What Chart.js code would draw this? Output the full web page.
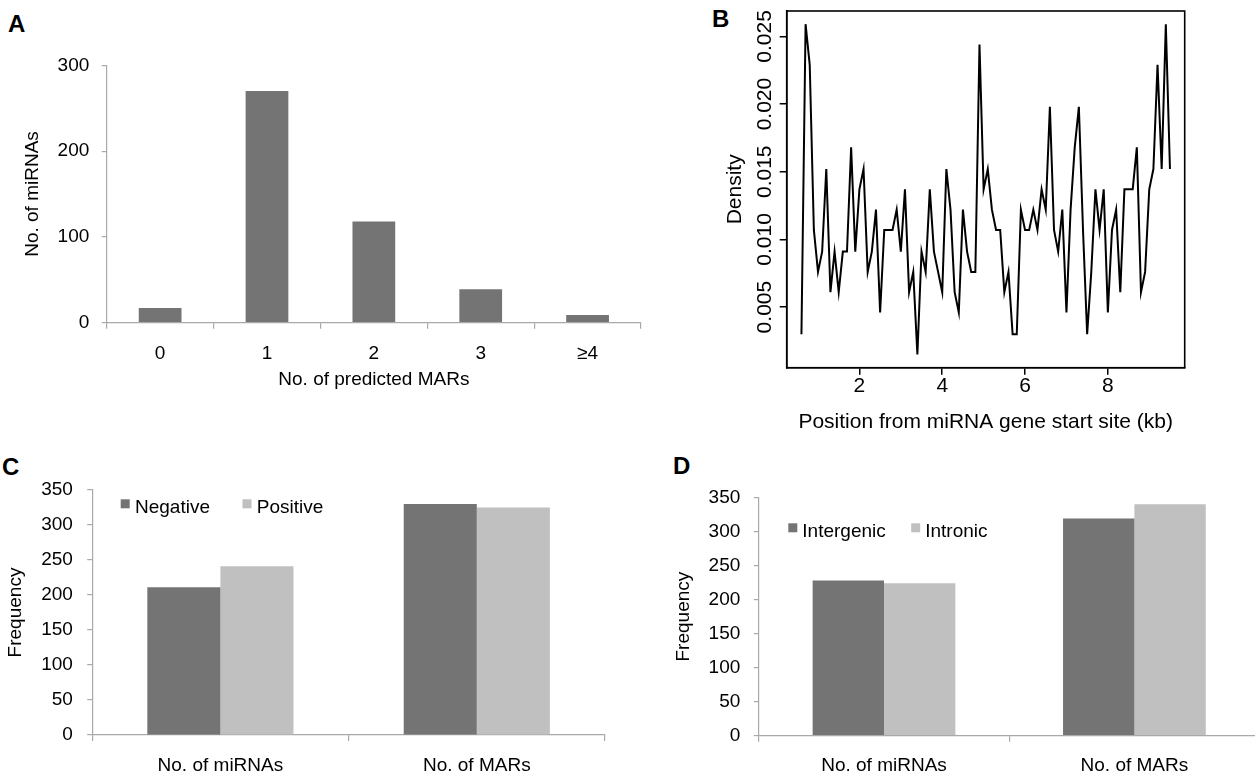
<!DOCTYPE html>
<html>
<head>
<meta charset="utf-8">
<title>miRNA and MARs</title>
<script src="https://cdn.jsdelivr.net/npm/chart.js@4.4.1/dist/chart.umd.min.js"></script>
<style>
    body { margin: 0; width: 1255px; height: 775px; overflow: hidden; background: #fff; font-family: "Liberation Sans", Arial, sans-serif; position: relative; }
    canvas { position: absolute; }
    .letter { position: absolute; font-weight: bold; font-size: 24px; line-height: 24px; color: #000; }
</style>
</head>
<body>
<div class="letter" style="left:8px;top:12px">A</div>
<div class="letter" style="left:712px;top:7px">B</div>
<div class="letter" style="left:2px;top:455px">C</div>
<div class="letter" style="left:673px;top:454px">D</div>

<canvas id="chartA" width="660" height="400" style="left:0;top:0"></canvas>
<canvas id="chartB" width="595" height="440" style="left:660px;top:0"></canvas>
<canvas id="chartC" width="630" height="335" style="left:0;top:440px"></canvas>
<canvas id="chartD" width="640" height="335" style="left:630px;top:440px"></canvas>

<script>
// A : number of predicted MARs per miRNA
const marCategories = ["0", "1", "2", "3", "≥4"]
const mirnaCounts = [17, 270, 118, 39, 9]

// B : density of MARs along the first 10 kb
const positionKb = [
    0.6, 0.7, 0.8, 0.9, 1.0, 1.1, 1.2, 1.3, 1.4, 1.5,
    1.6, 1.7, 1.8, 1.9, 2.0, 2.1, 2.2, 2.3, 2.4, 2.5,
    2.6, 2.7, 2.8, 2.9, 3.0, 3.1, 3.2, 3.3, 3.4, 3.5,
    3.6, 3.7, 3.8, 3.9, 4.0, 4.1, 4.2, 4.3, 4.4, 4.5,
    4.6, 4.7, 4.8, 4.9, 5.0, 5.1, 5.2, 5.3, 5.4, 5.5,
    5.6, 5.7, 5.8, 5.9, 6.0, 6.1, 6.2, 6.3, 6.4, 6.5,
    6.6, 6.7, 6.8, 6.9, 7.0, 7.1, 7.2, 7.3, 7.4, 7.5,
    7.6, 7.7, 7.8, 7.9, 8.0, 8.1, 8.2, 8.3, 8.4, 8.5,
    8.6, 8.7, 8.8, 8.9, 9.0, 9.1, 9.2, 9.3, 9.4, 9.5
]
const density = [
    0.0030, 0.0259, 0.0229, 0.0107, 0.0076, 0.0091, 0.0152, 0.0061, 0.0091, 0.0061,
    0.0091, 0.0091, 0.0168, 0.0091, 0.0137, 0.0152, 0.0076, 0.0091, 0.0122, 0.0046,
    0.0107, 0.0107, 0.0107, 0.0122, 0.0091, 0.0137, 0.0061, 0.0076, 0.0015, 0.0091,
    0.0076, 0.0137, 0.0091, 0.0076, 0.0061, 0.0152, 0.0122, 0.0061, 0.0046, 0.0122,
    0.0091, 0.0076, 0.0076, 0.0244, 0.0137, 0.0152, 0.0122, 0.0107, 0.0107, 0.0061,
    0.0076, 0.0030, 0.0030, 0.0122, 0.0107, 0.0107, 0.0122, 0.0107, 0.0137, 0.0122,
    0.0198, 0.0107, 0.0091, 0.0122, 0.0046, 0.0122, 0.0168, 0.0198, 0.0107, 0.0030,
    0.0076, 0.0137, 0.0107, 0.0137, 0.0046, 0.0107, 0.0122, 0.0061, 0.0137, 0.0137,
    0.0137, 0.0168, 0.0061, 0.0076, 0.0137, 0.0152, 0.0229, 0.0152, 0.0259, 0.0152
]

// C and D : frequencies
const groupLabels = ["No. of miRNAs", "No. of MARs"]
const strandNames = ["Negative", "Positive"]
const negativeCounts = [211, 330]
const positiveCounts = [241, 325]
const locationNames = ["Intergenic", "Intronic"]
const intergenicCounts = [228, 319]
const intronicCounts = [224, 340]

const darkGray = "#747474"
const lightGray = "#c0c0c0"
const axisGray = "#a9a9a9"
const fontFamily = "'Liberation Sans', Arial, sans-serif"

Chart.defaults.font.family = fontFamily
Chart.defaults.color = "#000"

// little legend drawn like the spreadsheet one (square + label)
const boxLegend = {
    id: "boxLegend",
    afterDraw(chart, args, opts) {
        const { ctx, chartArea } = chart
        ctx.save()
        ctx.font = "19px " + fontFamily
        ctx.textBaseline = "alphabetic"
        chart.data.datasets.forEach((ds, i) => {
            const x = chartArea.left + opts.x + i * opts.spacing
            const y = chartArea.top + opts.y
            ctx.fillStyle = ds.backgroundColor
            ctx.fillRect(x, y, 9, 9)
            ctx.fillStyle = "#000"
            ctx.fillText(ds.label, x + opts.gap, y + 13.5)
        })
        ctx.restore()
    }
}

// closed box around the plot region (R style)
const boxFrame = {
    id: "boxFrame",
    afterDatasetsDraw(chart) {
        const { ctx, chartArea: a } = chart
        ctx.save()
        ctx.strokeStyle = "#000"
        ctx.lineWidth = 1.6
        ctx.strokeRect(a.left, a.top, a.right - a.left, a.bottom - a.top)
        ctx.restore()
    }
}

function font(size) {
    return { family: fontFamily, size: size }
}

// ---- A
new Chart(document.querySelector("#chartA"), {
    type: "bar",
    data: {
        labels: marCategories,
        datasets: [{
            data: mirnaCounts,
            backgroundColor: darkGray,
            categoryPercentage: 1,
            barPercentage: 0.4
        }]
    },
    options: {
        responsive: false,
        animation: false,
        layout: { padding: { top: 65.3, right: 19, left: 0, bottom: 0 } },
        plugins: { legend: { display: false }, tooltip: { enabled: false } },
        scales: {
            x: {
                grid: { drawOnChartArea: false, offset: true, color: axisGray, tickLength: 6, lineWidth: 1.2 },
                border: { color: axisGray, width: 1.2 },
                ticks: { font: font(19), padding: 13.4 },
                title: { display: true, text: "No. of predicted MARs", font: font(19), padding: { top: 0, bottom: 8.6 } },
                afterFit: (s) => { s.height = 77.3 }
            },
            y: {
                min: 0,
                max: 300,
                ticks: { stepSize: 100, font: font(19), padding: 12.4 },
                grid: { drawOnChartArea: false, color: axisGray, tickLength: 5, lineWidth: 1.2 },
                border: { color: axisGray, width: 1.2 },
                title: { display: true, text: "No. of miRNAs", font: font(19), padding: { top: 21.6, bottom: 0 } },
                afterFit: (s) => { s.width = 106.7 }
            }
        }
    }
})

// ---- B
const xSpan = Math.max(...positionKb) - Math.min(...positionKb)
const ySpan = Math.max(...density) - Math.min(...density)

new Chart(document.querySelector("#chartB"), {
    type: "scatter",
    data: {
        datasets: [{
            data: positionKb.map((x, i) => ({ x: x, y: density[i] })),
            showLine: true,
            borderColor: "#000",
            borderWidth: 2,
            pointRadius: 0,
            tension: 0
        }]
    },
    options: {
        responsive: false,
        animation: false,
        layout: { padding: { top: 11, right: 70.3, left: 0, bottom: 0 } },
        plugins: { legend: { display: false }, tooltip: { enabled: false } },
        scales: {
            x: {
                type: "linear",
                min: Math.min(...positionKb) - 0.04 * xSpan,
                max: Math.max(...positionKb) + 0.04 * xSpan,
                ticks: { stepSize: 2, includeBounds: false, font: font(21), padding: -1, maxRotation: 0 },
                grid: { drawOnChartArea: false, color: "#000", tickLength: 7, lineWidth: 1.5 },
                border: { color: "#000", width: 1.6 },
                title: { display: true, text: "Position from miRNA gene start site (kb)", font: font(21), padding: { top: 0, bottom: 5.4 } },
                afterFit: (s) => { s.height = 72.3 }
            },
            y: {
                min: Math.min(...density) - 0.04 * ySpan,
                max: Math.max(...density) + 0.04 * ySpan,
                ticks: {
                    stepSize: 0.005,
                    includeBounds: false,
                    font: font(21),
                    minRotation: 90,
                    maxRotation: 90,
                    crossAlign: "center",
                    padding: -11.6,
                    callback: (v) => v.toFixed(3)
                },
                grid: { drawOnChartArea: false, color: "#000", tickLength: 7, lineWidth: 1.5 },
                border: { color: "#000", width: 1.6 },
                title: { display: true, text: "Density", font: font(21), padding: { top: 62.4, bottom: 0 } },
                afterFit: (s) => { s.width = 126.7 }
            }
        }
    },
    plugins: [boxFrame]
})

// ---- C and D share the same look
function frequencyChart(selector, names, first, second, geo) {
    return new Chart(document.querySelector(selector), {
        type: "bar",
        data: {
            labels: groupLabels,
            datasets: [
                { label: names[0], data: first, backgroundColor: darkGray },
                { label: names[1], data: second, backgroundColor: lightGray }
            ]
        },
        options: {
            responsive: false,
            animation: false,
            datasets: { bar: { categoryPercentage: 0.57, barPercentage: 1 } },
            layout: { padding: { top: geo.top, right: geo.right, left: 0, bottom: 0 } },
            plugins: {
                legend: { display: false },
                tooltip: { enabled: false },
                boxLegend: geo.legend
            },
            scales: {
                x: {
                    grid: { drawOnChartArea: false, offset: true, color: axisGray, tickLength: 6, lineWidth: 1.2 },
                    border: { color: axisGray, width: 1.2 },
                    ticks: { font: font(19), padding: geo.xPad },
                    afterFit: (s) => { s.height = geo.xHeight }
                },
                y: {
                    min: 0,
                    max: 350,
                    ticks: { stepSize: 50, font: font(19), padding: geo.yPad },
                    grid: { drawOnChartArea: false, color: axisGray, tickLength: 5, lineWidth: 1.2 },
                    border: { color: axisGray, width: 1.2 },
                    title: { display: true, text: "Frequency", font: font(19), padding: { top: geo.titlePad, bottom: 0 } },
                    afterFit: (s) => { s.width = geo.yWidth }
                }
            }
        },
        plugins: [boxLegend]
    })
}

frequencyChart("#chartC", strandNames, negativeCounts, positiveCounts, {
    top: 50, right: 25, xHeight: 40, yWidth: 92.2, xPad: 13, yPad: 14.3, titlePad: 4.6,
    legend: { x: 28.5, y: 9.3, spacing: 121.8, gap: 14.3 }
})

frequencyChart("#chartD", locationNames, intergenicCounts, intronicCounts, {
    top: 57.5, right: 10.4, xHeight: 39.3, yWidth: 128.8, xPad: 12.9, yPad: 13.5, titlePad: 42.6,
    legend: { x: 29.5, y: 25.8, spacing: 122.9, gap: 14 }
})
</script>
</body>
</html>
